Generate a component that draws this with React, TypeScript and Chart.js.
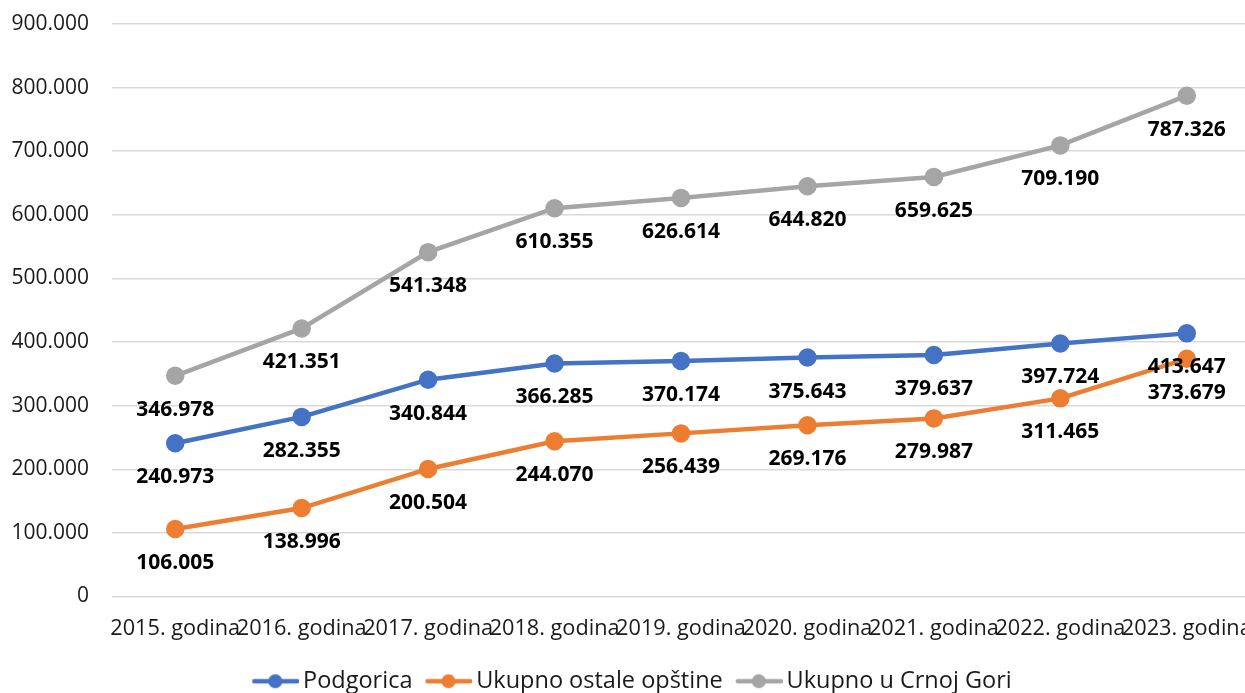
import React, { useEffect, useRef } from "react";
import { Chart, registerables } from "chart.js";

Chart.register(...registerables);

const categories = [
  "2015. godina",
  "2016. godina",
  "2017. godina",
  "2018. godina",
  "2019. godina",
  "2020. godina",
  "2021. godina",
  "2022. godina",
  "2023. godina",
];
const podgorica = [240973, 282355, 340844, 366285, 370174, 375643, 379637, 397724, 413647];
const ostale = [106005, 138996, 200504, 244070, 256439, 269176, 279987, 311465, 373679];
const ukupno = [346978, 421351, 541348, 610355, 626614, 644820, 659625, 709190, 787326];
const seriesNames = ["Podgorica", "Ukupno ostale opštine", "Ukupno u Crnoj Gori"];
const colors = ["#4472C4", "#ED7D31", "#A5A5A5"];

const FONT = "'Open Sans', 'Noto Sans', sans-serif";
const fmt = (v: number) => v.toLocaleString("de-DE");

function legendIcon(color: string): HTMLCanvasElement {
  const c = document.createElement("canvas");
  c.width = 58;
  c.height = 16;
  const ctx = c.getContext("2d")!;
  ctx.strokeStyle = color;
  ctx.lineWidth = 4.5;
  ctx.lineCap = "round";
  ctx.beginPath();
  ctx.moveTo(13, 8);
  ctx.lineTo(56, 8);
  ctx.stroke();
  ctx.fillStyle = color;
  ctx.beginPath();
  ctx.arc(34, 8, 7, 0, Math.PI * 2);
  ctx.fill();
  return c;
}

const labelPlugin = {
  id: "pointLabels",
  afterDatasetsDraw(chart: any) {
    const ctx = chart.ctx;
    ctx.save();
    ctx.font = `bold 21px ${FONT}`;
    ctx.fillStyle = "#000000";
    ctx.textAlign = "center";
    ctx.textBaseline = "middle";
    chart.data.datasets.forEach((ds: any, i: number) => {
      const meta = chart.getDatasetMeta(i);
      meta.data.forEach((pt: any, j: number) => {
        ctx.fillText(fmt(ds.data[j]), pt.x, pt.y + 34);
      });
    });
    ctx.restore();
  },
};

export default function App() {
  const ref = useRef<HTMLCanvasElement>(null);
  useEffect(() => {
    const seriesData = [podgorica, ostale, ukupno];
    const chart = new Chart(ref.current!, {
      type: "line",
      data: {
        labels: categories,
        datasets: seriesData.map((d, i) => ({
          label: seriesNames[i],
          data: d,
          borderColor: colors[i],
          backgroundColor: colors[i],
          borderWidth: 4.5,
          pointRadius: 7,
          pointHoverRadius: 7,
          pointStyle: "circle",
          tension: 0,
          fill: false,
        })),
      },
      options: {
        responsive: false,
        animation: false,
        layout: { autoPadding: false, padding: { left: 11, right: 2, top: 1, bottom: 0 } },
        scales: {
          x: {
            offset: true,
            grid: { display: false, drawTicks: false },
            border: { display: false },
            afterFit: (scale: any) => {
              scale.paddingLeft = 0;
              scale.paddingRight = 0;
              scale.height = 63;
            },
            ticks: {
              autoSkip: false,
              maxRotation: 0,
              minRotation: 0,
              padding: 19,
              color: "#1a1a1a",
              font: { family: FONT, size: 21.7 },
            },
          },
          y: {
            min: 0,
            max: 900000,
            grid: { color: "#D9D9D9", lineWidth: 1.5, drawTicks: false },
            border: { display: false },
            afterFit: (scale: any) => {
              scale.width = 101;
              scale.paddingTop = 24;
              scale.paddingBottom = 0;
            },
            ticks: {
              stepSize: 100000,
              padding: 23,
              color: "#1a1a1a",
              font: { family: FONT, size: 21 },
              callback: (v: any) => fmt(Number(v)),
            },
          },
        },
        plugins: {
          tooltip: { enabled: false },
          legend: {
            position: "bottom",
            labels: {
              usePointStyle: true,
              pointStyleWidth: 42,
              padding: 10,
              color: "#1a1a1a",
              font: { family: FONT, size: 23.5 },
              generateLabels: (ch: any) =>
                ch.data.datasets.map((ds: any, i: number) => ({
                  text: ds.label,
                  pointStyle: legendIcon(colors[i]),
                  fillStyle: colors[i],
                  strokeStyle: colors[i],
                  lineWidth: 0,
                  hidden: false,
                  datasetIndex: i,
                  fontColor: "#1a1a1a",
                })),
            },
          },
        },
      },
      plugins: [labelPlugin],
    });
    return () => chart.destroy();
  }, []);
  return (
    <div
      style={{
        position: "fixed",
        left: 0,
        top: 0,
        width: 1245,
        height: 693,
        overflow: "hidden",
        background: "#ffffff",
      }}
    >
      <canvas ref={ref} width={1252} height={703} style={{ display: "block" }} />
    </div>
  );
}
